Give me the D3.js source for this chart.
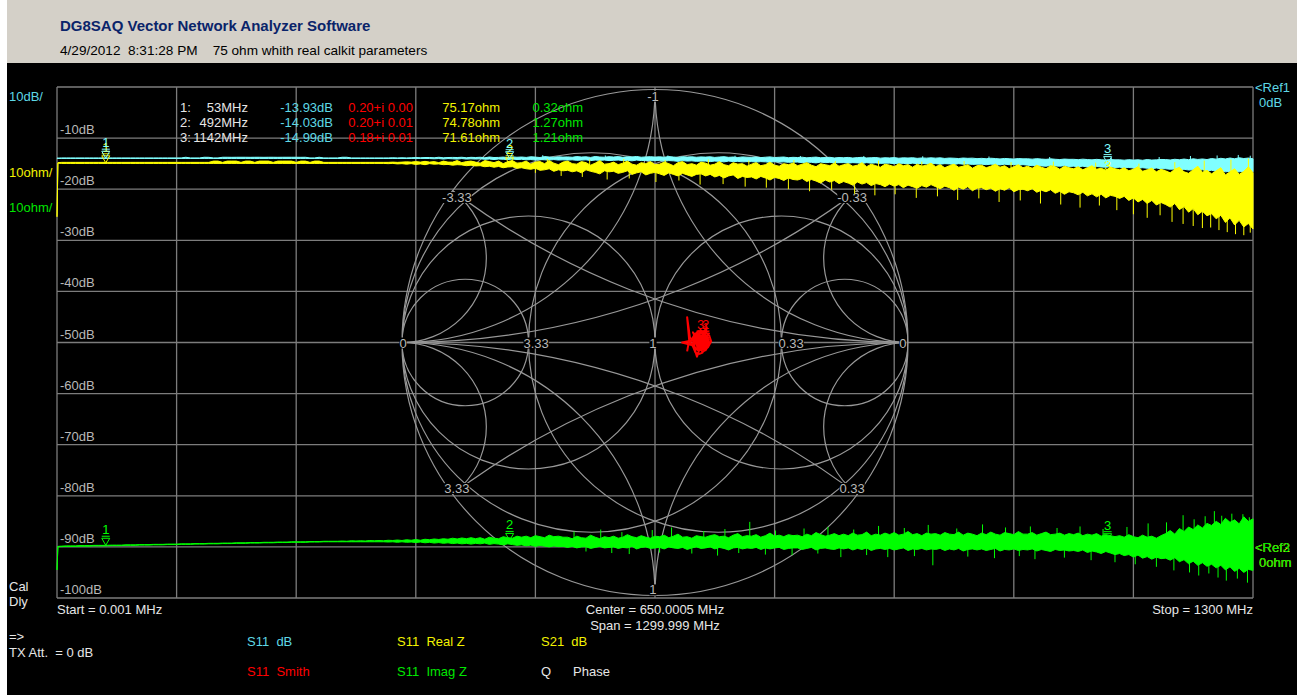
<!DOCTYPE html>
<html>
<head>
<meta charset="utf-8">
<script src="https://cdn.jsdelivr.net/npm/d3@7"></script>
<style>
  html, body { margin: 0; padding: 0; background: #ffffff; }
  svg { display: block; }
  text { font-family: "Liberation Sans", Arial, sans-serif; white-space: pre; }
</style>
</head>
<body>
<svg id="vna" width="1297" height="695"></svg>
<script>
// ---------------------------------------------------------------
// Sweep: 0.001 MHz .. 1300 MHz (points at 0.001, 1, then every 5 MHz)
// ---------------------------------------------------------------
const sweepMHz = [0.001, 1].concat(d3.range(5, 1301, 5));

// Horizontal grid lines / dB labels
const dbTicks = [-10, -20, -30, -40, -50, -60, -70, -80, -90, -100];

// S11 dB trace: upper and lower envelope per sweep point (dB)
const s11DbHi = [-13.90, -13.92,
  -13.88,-13.88,-13.88,-13.88,-13.88,-13.88,-13.88,-13.88,-13.88,-13.88,
  -13.88,-13.88,-13.88,-13.88,-13.88,-13.88,-13.88,-13.88,-13.88,-13.88,
  -13.88,-13.88,-13.88,-13.88,-13.88,-13.88,-13.88,-13.75,-13.88,-13.88,
  -13.88,-13.75,-13.76,-13.88,-13.88,-13.75,-13.75,-13.76,-13.75,-13.75,
  -13.75,-13.76,-13.75,-13.75,-13.76,-13.75,-13.75,-13.76,-13.75,-13.75,
  -13.75,-13.75,-13.76,-13.75,-13.88,-13.88,-13.75,-13.88,-13.88,-13.88,
  -13.88,-13.75,-13.75,-13.88,-13.88,-13.88,-13.88,-13.88,-13.88,-13.88,
  -13.88,-13.88,-13.85,-13.88,-13.85,-13.88,-13.85,-13.80,-13.85,-13.80,
  -13.80,-13.85,-13.75,-13.85,-13.80,-13.78,-13.80,-13.75,-13.85,-13.76,
  -13.80,-13.75,-13.85,-13.70,-13.80,-13.78,-13.72,-13.80,-13.68,-13.75,
  -13.70,-13.78,-13.65,-13.72,-13.80,-13.62,-13.70,-13.75,-13.66,-13.72,
  -13.68,-13.75,-13.62,-13.70,-13.66,-13.78,-13.60,-13.70,-13.74,-13.64,
  -13.70,-13.62,-13.76,-13.66,-13.70,-13.60,-13.74,-13.68,-13.64,-13.72,
  -13.66,-13.74,-13.62,-13.70,-13.78,-13.64,-13.70,-13.66,-13.75,-13.68,
  -13.72,-13.66,-13.78,-13.70,-13.64,-13.76,-13.70,-13.80,-13.68,-13.74,
  -13.76,-13.70,-13.82,-13.74,-13.68,-13.80,-13.75,-13.70,-13.84,-13.76,
  -13.80,-13.74,-13.86,-13.78,-13.72,-13.84,-13.80,-13.76,-13.88,-13.80,
  -13.84,-13.78,-13.90,-13.82,-13.76,-13.88,-13.84,-13.80,-13.92,-13.85,
  -13.88,-13.82,-13.94,-13.86,-13.90,-13.84,-13.96,-13.88,-13.92,-13.86,
  -13.92,-13.86,-13.98,-13.90,-13.94,-14.00,-13.90,-13.96,-13.92,-14.02,
  -13.96,-14.04,-13.94,-14.00,-14.08,-13.98,-14.04,-14.10,-14.00,-14.06,
  -14.05,-14.12,-14.02,-14.10,-14.16,-14.06,-14.14,-14.20,-14.10,-14.16,
  -14.15,-14.22,-14.12,-14.20,-14.26,-14.16,-14.24,-14.30,-14.20,-14.26,
  -14.25,-14.32,-14.22,-14.30,-14.24,-14.34,-14.20,-14.30,-14.26,-14.18,
  -14.20,-14.28,-14.14,-14.24,-14.10,-14.22,-14.05,-14.18,-14.08,-14.20,
  -14.00,-14.12,-13.95,-14.08,-13.90,-14.05,-13.85,-14.00,-13.90,-14.05];
const s11DbLo = [-13.95, -13.98,
  -13.98,-13.98,-13.98,-13.98,-13.98,-13.98,-13.98,-13.98,-13.98,-13.98,
  -13.98,-13.98,-13.98,-13.98,-13.98,-13.98,-13.98,-13.98,-13.98,-13.98,
  -13.98,-13.98,-13.98,-13.98,-13.98,-13.98,-13.98,-13.98,-13.98,-13.98,
  -13.98,-13.98,-13.98,-13.98,-13.98,-13.98,-13.98,-13.98,-13.98,-13.98,
  -13.98,-13.98,-13.98,-13.98,-13.98,-13.98,-13.98,-13.98,-13.98,-13.98,
  -13.98,-13.98,-13.98,-13.98,-13.98,-13.98,-13.98,-13.98,-13.98,-13.98,
  -13.98,-13.98,-13.98,-13.98,-13.98,-13.98,-13.98,-13.98,-13.98,-13.98,
  -13.98,-13.98,-13.98,-13.98,-13.98,-13.98,-13.98,-13.98,-13.98,-13.98,
  -14.00,-14.05,-14.00,-14.10,-14.00,-14.05,-14.10,-14.00,-14.10,-14.05,
  -14.10,-14.05,-14.15,-14.10,-14.20,-14.10,-14.15,-14.20,-14.10,-14.20,
  -14.15,-14.25,-14.20,-14.30,-14.20,-14.25,-14.30,-14.20,-14.30,-14.25,
  -14.30,-14.25,-14.35,-14.30,-14.25,-14.40,-14.30,-14.35,-14.30,-14.40,
  -14.35,-14.30,-14.40,-14.35,-14.45,-14.30,-14.40,-14.35,-14.45,-14.40,
  -14.40,-14.50,-14.40,-14.45,-14.55,-14.40,-14.50,-14.45,-14.55,-14.50,
  -14.50,-14.60,-14.50,-14.55,-14.65,-14.50,-14.60,-14.55,-14.65,-14.60,
  -14.60,-14.70,-14.60,-14.65,-14.75,-14.60,-14.70,-14.65,-14.75,-14.70,
  -14.70,-14.80,-14.70,-14.75,-14.85,-14.70,-14.80,-14.75,-14.85,-14.80,
  -14.80,-14.90,-14.80,-14.85,-14.95,-14.80,-14.90,-14.85,-14.95,-14.90,
  -14.90,-15.00,-14.90,-14.95,-15.05,-14.90,-15.00,-14.95,-15.05,-15.00,
  -15.00,-15.10,-15.00,-15.05,-15.15,-15.00,-15.10,-15.05,-15.15,-15.10,
  -15.10,-15.20,-15.10,-15.15,-15.25,-15.10,-15.20,-15.15,-15.30,-15.20,
  -15.30,-15.40,-15.30,-15.45,-15.50,-15.35,-15.45,-15.50,-15.40,-15.55,
  -15.50,-15.60,-15.50,-15.65,-15.70,-15.55,-15.65,-15.70,-15.60,-15.75,
  -15.70,-15.80,-15.75,-15.85,-15.90,-15.80,-15.90,-16.00,-15.85,-16.00,
  -16.00,-16.10,-16.05,-16.20,-16.10,-16.25,-16.20,-16.30,-16.20,-16.40,
  -16.30,-16.50,-16.40,-16.60,-16.50,-16.70,-16.60,-16.50,-16.70,-16.60];
// isolated S11 dB excursions above the band
const s11DbSpikeMHz = [528, 596, 664, 737, 808, 877, 941, 1013, 1079, 1146, 1198, 1232, 1261, 1284, 1297];
const s11DbSpikeVal = [-13.35, -13.40, -13.40, -13.45, -13.50, -13.50, -13.55, -13.60, -13.70, -13.80, -13.70, -13.50, -13.40, -13.30, -13.45];

// S11 real part of Z: upper and lower envelope (ohm)
const realZHi = [64.6, 75.2,
  75.25,75.25,75.25,75.25,75.25,75.25,75.25,75.25,75.25,75.25,
  75.25,75.25,75.25,75.25,75.25,75.25,75.25,75.25,75.25,75.25,
  75.25,75.25,75.25,75.25,75.25,75.25,75.25,75.25,75.25,75.25,
  75.25,75.25,75.25,75.50,75.50,75.25,75.50,75.50,75.50,75.25,
  75.50,75.50,75.25,75.50,75.50,75.50,75.25,75.50,75.50,75.50,
  75.50,75.25,75.50,75.50,75.25,75.50,75.50,75.25,75.25,75.25,
  75.25,75.25,75.25,75.25,75.25,75.25,75.25,75.25,75.25,75.25,
  75.25,75.25,75.30,75.25,75.30,75.35,75.30,75.40,75.30,75.45,
  75.30,75.40,75.20,75.50,75.30,75.30,75.60,75.20,75.40,75.50,
  75.30,75.10,75.60,75.40,75.20,75.50,75.00,75.40,75.60,75.10,
  75.20,75.50,74.90,75.30,75.40,75.00,75.60,75.10,74.80,75.30,
  75.50,75.00,74.90,75.40,75.20,74.70,75.10,75.60,74.90,75.00,
  75.30,74.80,75.10,75.50,74.90,74.70,75.20,75.00,75.40,74.80,
  74.90,75.30,75.00,74.60,75.20,75.40,74.80,75.00,74.70,75.30,
  75.10,74.70,74.90,75.40,74.80,74.60,75.20,74.90,75.00,74.50,
  74.90,75.20,74.60,74.80,75.30,74.70,74.50,75.00,74.80,75.10,
  74.60,74.90,75.20,74.70,74.40,75.00,74.80,74.60,75.10,74.50,
  74.80,75.00,74.50,74.70,75.20,74.40,74.90,74.60,74.30,74.90,
  74.70,74.40,75.00,74.60,74.80,74.30,74.90,74.50,74.70,75.10,
  74.40,74.80,74.20,74.60,74.90,74.30,74.50,74.80,74.10,74.60,
  74.70,74.20,74.50,74.90,74.30,74.60,74.00,74.40,74.80,74.20,
  74.50,74.10,74.70,74.30,74.00,74.60,74.40,73.90,74.50,74.20,
  74.00,74.40,73.80,74.20,74.60,73.90,74.10,73.70,74.30,74.00,
  73.80,74.20,73.60,73.90,74.40,73.50,73.80,74.10,73.40,73.90,
  73.60,73.20,73.90,74.30,73.40,73.10,73.80,74.50,73.30,73.70,
  73.00,73.60,74.20,72.80,73.40,74.00,72.90,73.50,74.40,73.20];
const realZLo = [64.6, 75.1,
  75.05,75.05,75.05,75.05,75.05,75.05,75.05,75.05,75.05,75.05,
  75.05,75.05,75.05,75.05,75.05,75.05,75.05,75.05,75.05,75.05,
  75.05,75.05,75.05,75.05,75.05,75.05,75.05,75.05,75.05,75.05,
  75.05,75.05,75.05,75.05,75.05,75.05,75.05,75.05,75.05,75.05,
  75.05,75.05,75.05,75.05,75.05,75.05,75.05,75.05,75.05,75.05,
  75.05,75.05,75.05,75.05,75.05,75.05,75.05,75.05,75.05,75.05,
  75.05,75.05,75.05,75.05,75.05,75.05,75.05,75.05,75.05,75.05,
  75.05,75.00,75.05,74.95,75.00,74.90,75.00,74.85,74.95,74.80,
  75.00,74.90,74.95,74.80,74.85,74.70,74.80,74.75,74.60,74.70,
  74.55,74.60,74.40,74.50,74.30,74.45,74.20,74.35,74.40,74.10,
  74.20,74.00,73.90,74.10,73.70,73.80,74.00,73.50,73.80,73.60,
  73.70,73.40,73.60,73.20,73.80,73.50,73.30,73.00,73.60,73.40,
  73.50,73.10,73.30,73.60,72.90,73.20,73.40,72.80,73.10,73.30,
  73.00,72.70,73.20,72.90,72.60,73.10,72.80,72.50,72.90,73.00,
  72.60,72.90,72.40,72.70,72.20,72.60,72.80,72.10,72.50,72.30,
  72.40,72.00,72.50,72.20,71.80,72.30,72.10,71.70,72.20,71.90,
  71.80,72.10,71.50,71.90,71.60,71.20,71.80,71.40,71.70,71.10,
  71.50,71.20,70.80,71.40,71.00,71.30,70.70,71.10,70.90,70.50,
  71.00,70.60,70.90,70.30,70.80,70.50,70.20,70.70,70.40,70.90,
  70.50,70.10,70.60,70.30,69.80,70.40,70.00,70.50,69.70,70.20,
  70.30,69.90,70.20,69.60,70.10,69.80,70.30,69.50,69.90,70.00,
  69.70,70.10,69.40,69.80,69.50,69.90,69.20,69.60,69.00,69.50,
  69.30,68.90,69.40,68.70,69.10,68.50,69.00,68.30,68.80,68.60,
  68.20,68.60,67.80,68.30,67.50,68.00,67.20,67.80,66.90,67.40,
  67.00,66.50,67.20,66.00,66.60,65.50,66.20,65.00,65.70,64.80,
  65.20,64.20,64.90,63.50,64.40,63.00,63.90,62.60,63.30,62.20];
// isolated real Z excursions outside the band
const realZSpikeMHz = [520, 533, 548, 571, 579, 598, 616, 622, 651, 661, 676, 699, 708, 724, 748, 752, 771,
  795, 801, 818, 842, 846, 867, 889, 893, 911, 934, 940, 957, 979, 986, 1002, 1024, 1037, 1047, 1069,
  1083, 1091, 1112, 1129, 1133, 1152, 1170, 1176, 1185, 1199, 1212, 1215, 1224, 1235, 1245, 1247,
  1254, 1263, 1272, 1276, 1281, 1290, 1295, 1297];
const realZSpikeVal = [73.2, 75.9, 72.6, 72.4, 75.8, 71.9, 75.9, 72.1, 71.4, 75.7, 71.7, 70.9, 75.8, 71.0, 70.5, 75.6, 70.3,
  70.0, 75.7, 69.6, 69.9, 75.5, 69.1, 68.8, 75.6, 69.0, 68.3, 75.4, 68.6, 67.9, 75.5, 68.2, 67.5, 75.3, 67.8, 67.2,
  75.4, 67.0, 66.4, 75.2, 66.8, 65.9, 65.1, 75.0, 64.4, 64.9, 63.6, 75.3, 63.2, 62.8, 62.4, 75.6,
  62.5, 62.0, 61.6, 75.8, 61.2, 61.0, 76.0, 61.5];

// S11 imaginary part of Z: upper and lower envelope (ohm)
const imagZHi = [-4.5, 0.1,
  0.15,0.20,0.20,0.20,0.25,0.25,0.25,0.30,0.30,0.30,
  0.32,0.35,0.35,0.35,0.40,0.40,0.40,0.45,0.45,0.45,
  0.50,0.50,0.50,0.55,0.55,0.55,0.60,0.60,0.60,0.65,
  0.65,0.65,0.70,0.70,0.70,0.75,0.75,0.75,0.80,0.80,
  0.80,0.85,0.85,0.85,0.90,0.90,0.90,0.95,0.95,0.95,
  1.00,1.00,1.00,1.00,1.05,1.05,1.05,1.10,1.10,1.10,
  1.10,1.15,1.10,1.20,1.15,1.20,1.15,1.25,1.20,1.25,
  1.20,1.30,1.25,1.35,1.25,1.40,1.30,1.45,1.30,1.50,
  1.40,1.55,1.45,1.60,1.50,1.70,1.55,1.75,1.60,1.80,
  1.60,1.80,1.50,1.90,1.70,1.60,2.00,1.80,1.70,2.10,
  1.90,2.10,1.80,2.20,2.00,1.80,2.30,2.00,2.10,1.90,
  1.90,1.60,2.10,1.80,1.70,2.30,1.90,1.60,2.00,1.80,
  2.10,1.70,1.90,2.40,2.00,1.80,2.20,1.90,1.70,2.10,
  2.00,2.30,1.80,2.10,2.50,1.90,2.00,1.70,2.20,2.00,
  1.90,2.20,2.40,2.00,2.10,1.80,2.30,2.60,2.00,2.20,
  2.10,2.40,1.90,2.20,2.70,2.10,2.30,2.00,2.40,2.20,
  2.30,2.00,2.50,2.20,2.80,2.40,2.10,2.30,2.60,2.20,
  2.50,2.20,2.70,2.30,2.40,2.90,2.20,2.50,2.30,2.70,
  2.40,2.80,2.30,2.50,3.00,2.40,2.60,2.20,2.70,2.50,
  2.60,2.30,2.80,2.50,2.40,2.90,2.30,2.70,2.50,2.20,
  2.70,2.40,2.90,2.50,2.30,2.80,2.60,2.40,3.00,2.50,
  2.50,2.80,2.30,2.60,2.90,2.40,2.50,2.70,2.30,2.60,
  2.40,2.70,2.20,2.50,2.30,2.60,2.10,2.40,2.20,2.00,
  2.20,1.90,2.40,2.00,1.80,2.30,1.90,2.10,1.70,2.20,
  2.60,3.20,2.50,3.60,3.00,3.90,3.40,4.30,3.70,4.60,
  4.20,5.00,4.40,5.60,4.80,5.30,4.50,5.90,5.00,5.50];
const imagZLo = [-4.5, 0.05,
  0.05,0.10,0.10,0.10,0.15,0.15,0.15,0.20,0.20,0.20,
  0.22,0.25,0.25,0.25,0.30,0.30,0.30,0.35,0.35,0.35,
  0.40,0.40,0.40,0.45,0.45,0.45,0.50,0.50,0.50,0.55,
  0.55,0.55,0.60,0.60,0.60,0.65,0.65,0.65,0.70,0.70,
  0.70,0.75,0.75,0.75,0.80,0.80,0.80,0.85,0.85,0.85,
  0.90,0.90,0.90,0.90,0.95,0.95,0.95,1.00,1.00,1.00,
  1.00,1.00,1.00,1.00,1.00,1.00,1.00,1.00,1.00,1.00,
  1.00,0.95,1.00,0.90,1.00,0.90,0.95,0.85,0.95,0.80,
  0.90,0.75,0.85,0.70,0.80,0.65,0.75,0.60,0.70,0.55,
  0.70,0.60,0.75,0.50,0.65,0.55,0.40,0.60,0.45,0.30,
  0.40,0.20,0.35,0.10,0.30,0.15,0.00,0.20,0.05,0.10,
  -0.10,0.10,-0.20,0.00,0.05,-0.30,-0.10,0.10,-0.20,-0.10,
  0.00,-0.30,-0.10,-0.20,0.10,-0.40,-0.10,0.00,-0.30,-0.20,
  -0.10,-0.40,0.00,-0.20,-0.30,-0.10,-0.50,-0.20,0.00,-0.30,
  -0.20,0.00,-0.40,-0.10,-0.30,-0.60,-0.20,-0.10,-0.40,-0.20,
  -0.30,-0.10,-0.50,-0.20,-0.40,-0.20,-0.10,-0.50,-0.30,-0.20,
  -0.20,-0.50,-0.30,-0.10,-0.60,-0.30,-0.20,-0.40,-0.50,-0.20,
  -0.40,-0.20,-0.60,-0.30,-0.50,-0.20,-0.70,-0.40,-0.30,-0.50,
  -0.30,-0.60,-0.40,-0.20,-0.70,-0.40,-0.50,-0.30,-0.60,-0.40,
  -0.50,-0.30,-0.70,-0.40,-0.60,-0.30,-0.80,-0.50,-0.40,-0.60,
  -0.40,-0.70,-0.50,-0.30,-0.80,-0.50,-0.60,-0.40,-0.70,-0.50,
  -0.60,-0.40,-0.80,-0.50,-0.70,-0.90,-0.50,-0.70,-0.60,-0.80,
  -0.70,-0.90,-0.60,-1.10,-0.80,-1.00,-1.30,-0.90,-1.20,-1.50,
  -1.30,-1.70,-1.50,-2.00,-1.60,-2.20,-1.90,-2.40,-2.00,-2.30,
  -2.20,-2.60,-2.10,-2.90,-2.50,-3.30,-2.80,-3.60,-3.10,-3.80,
  -3.40,-4.10,-3.60,-4.50,-3.90,-4.80,-4.20,-5.00,-4.40,-4.60];
// isolated imag Z excursions outside the band
const imagZSpikeMHz = [562, 575, 591, 603, 614, 622, 647, 655, 668, 690, 703, 718, 726, 741, 753, 770, 781,
  799, 812, 827, 838, 852, 866, 880, 893, 903, 921, 932, 947, 952, 978, 990, 1006, 1019, 1031, 1046,
  1058, 1063, 1087, 1095, 1112, 1124, 1137, 1150, 1163, 1172, 1186, 1195, 1206, 1214, 1224, 1231,
  1236, 1241, 1248, 1252, 1258, 1262, 1266, 1271, 1277, 1283, 1289, 1294, 1296];
const imagZSpikeVal = [3.0, -0.9, 3.4, -1.2, 2.9, -1.4, 3.3, -1.1, 3.8, -1.3, 3.1, -1.7, 3.5, -1.2, 4.9, -1.5, 3.2,
  -1.6, 3.6, -1.3, 3.9, -2.0, 3.4, -1.6, 4.1, -2.0, 3.7, -1.8, 4.3, -3.6, 3.6, -1.9, 4.4, -2.2, 3.8, -1.8,
  4.0, -2.4, 3.7, -2.1, 4.0, -2.6, 3.5, -3.0, 3.9, -3.4, 4.6, -3.9, 4.8, -4.6, 6.2, -5.0,
  5.4, -5.6, 6.0, -5.2, 7.0, -6.0, 6.1, -6.6, 6.5, -6.2, 6.4, -7.0, 5.8];

// S11 reflection coefficient trace on the Smith chart
const smithTraceRe = [0.127,0.135,0.127,0.138,0.150,0.165,0.180,0.195,0.205,0.198,0.180,0.160,0.148,0.160,
  0.178,0.200,0.212,0.205,0.188,0.168,0.152,0.107,0.145,0.168,0.185,0.198,0.185,0.165,0.150,0.158,
  0.166,0.175,0.192,0.210,0.222,0.214,0.198,0.182,0.170,0.178,0.196,0.190,0.172,0.158,0.168,0.192,
  0.206,0.196,0.180,0.174,0.184,0.176,0.160,0.150,0.162,0.175,0.188,0.176,0.160,0.152,0.140,0.155,
  0.172,0.190,0.208,0.216,0.200,0.182,0.170,0.185,0.200,0.186,0.165,0.158,0.175,0.195,0.205,0.198,
  0.182,0.168,0.180,0.195,0.188,0.178];
const smithTraceIm = [-0.035,0.010,0.100,0.020,0.005,0.020,0.030,0.018,0.000,-0.020,-0.030,-0.022,-0.005,0.015,
  0.025,0.028,0.010,-0.012,-0.025,-0.030,-0.012,0.000,0.008,0.000,-0.012,0.012,0.040,0.032,0.020,-0.030,
  -0.056,-0.028,-0.035,-0.018,0.005,0.028,0.042,0.022,0.002,-0.012,-0.004,0.018,0.024,0.004,-0.018,-0.026,
  0.004,0.030,0.050,0.020,-0.004,0.010,0.028,0.040,0.012,-0.005,-0.040,-0.045,-0.040,-0.020,0.000,0.030,
  0.045,0.035,0.020,-0.005,-0.030,-0.018,0.010,0.012,0.000,-0.010,-0.008,0.018,0.035,0.045,0.060,0.030,
  0.008,-0.012,-0.020,-0.012,0.005,0.000];

// Markers
const markerIds = ["1", "2", "3"];
const markerMHz = [53, 492, 1142];
const markerS11Db = [-13.93, -14.03, -14.99];
const markerGammaRe = [0.20, 0.20, 0.18];
const markerGammaIm = [0.00, 0.01, 0.01];
const markerRealZ = [75.17, 74.78, 71.61];
const markerImagZ = [0.32, 1.27, 1.21];

// Smith chart grid values and label positions (reflection-coefficient plane)
const smithRes = [1 / 3, 1, 3];
const smithReact = [1 / 3, 1, 3];
const smithLabelText = ["0", "3.33", "1", "0.33", "0", "-1", "1", "-3.33", "-0.33", "3.33", "0.33"];
const smithLabelRe = [-0.996, -0.47, -0.008, 0.538, 0.98, -0.008, -0.008, -0.783, 0.779, -0.783, 0.779];
const smithLabelIm = [0, 0, 0, 0, 0, 0.976, -0.976, 0.575, 0.575, -0.575, -0.575];

// ---------------------------------------------------------------
const COL = {
  header: "#d4d0c8", title: "#0a246a", grid: "#7c7c7c", smith: "#989898",
  label: "#b8b8b8", white: "#e6e6e6",
  cyan: "#80ffff", cyanText: "#5ed8e6", yellow: "#ffff00", yellowText: "#f2f200",
  red: "#ff0000", green: "#00ff00", greenText: "#00e600"
};
const plot = { l: 57, r: 1253, t: 87, b: 598 };

const svg = d3.select("#vna");

// window background: header strip and black display
svg.append("rect").attr("x", 7).attr("y", 0).attr("width", 1290).attr("height", 63).attr("fill", COL.header);
svg.append("rect").attr("x", 7).attr("y", 63).attr("width", 1290).attr("height", 632).attr("fill", "#000");

svg.append("text").attr("x", 60).attr("y", 31).attr("fill", COL.title)
  .style("font-size", "15px").style("font-weight", "bold")
  .text("DG8SAQ Vector Network Analyzer Software");
svg.append("text").attr("x", 60).attr("y", 55).attr("fill", "#000")
  .style("font-size", "13.6px")
  .text("4/29/2012  8:31:28 PM    75 ohm whith real calkit parameters");

// scales
const x = d3.scaleLinear().domain([0.001, 1300]).range([plot.l, plot.r]);
const yDb = d3.scaleLinear().domain([-100, 0]).range([plot.b, plot.t]);
const yOhm = d3.scaleLinear().domain([-10, 90]).range([plot.b, plot.t]);

// rectangular grid
const gridG = svg.append("g").attr("stroke", COL.grid).attr("stroke-width", 1.3).attr("fill", "none");
const vLines = d3.range(0, 11).map(i => 0.001 + i * (1300 - 0.001) / 10);
gridG.selectAll("line.v").data(vLines).join("line")
  .attr("x1", d => x(d)).attr("x2", d => x(d)).attr("y1", plot.t).attr("y2", plot.b);
gridG.selectAll("line.h").data([0].concat(dbTicks)).join("line")
  .attr("x1", plot.l).attr("x2", plot.r).attr("y1", d => yDb(d)).attr("y2", d => yDb(d));

// dB labels
svg.append("g").selectAll("text").data(dbTicks).join("text")
  .attr("x", plot.l + 3).attr("y", d => yDb(d) - 4)
  .attr("fill", COL.label).style("font-size", "13px")
  .text(d => d + "dB");

// Smith chart
const cx = (plot.l + plot.r) / 2, cy = (plot.t + plot.b) / 2, R = 253;
const gx = d3.scaleLinear().domain([-1, 1]).range([cx - R, cx + R]);
const gy = d3.scaleLinear().domain([-1, 1]).range([cy + R, cy - R]);
svg.append("clipPath").attr("id", "smithClip")
  .append("circle").attr("cx", cx).attr("cy", cy).attr("r", R);
const smithG = svg.append("g").attr("stroke", COL.smith).attr("stroke-width", 1.2).attr("fill", "none");
smithG.append("circle").attr("cx", cx).attr("cy", cy).attr("r", R);
const inner = smithG.append("g").attr("clip-path", "url(#smithClip)");
const circles = [];
smithRes.forEach(r => {
  circles.push({ c: r / (1 + r), ci: 0, rad: 1 / (1 + r) });      // constant resistance
  circles.push({ c: -r / (1 + r), ci: 0, rad: 1 / (1 + r) });     // constant conductance
});
smithReact.forEach(v => {
  [1, -1].forEach(s => {
    circles.push({ c: 1, ci: s / v, rad: 1 / v });                 // constant reactance
    circles.push({ c: -1, ci: s / v, rad: 1 / v });                // constant susceptance
  });
});
inner.selectAll("circle").data(circles).join("circle")
  .attr("cx", d => gx(d.c)).attr("cy", d => gy(d.ci)).attr("r", d => d.rad * R);

// grid value labels on black boxes
const smithLab = svg.append("g").style("font-size", "13px");
smithLabelText.forEach((s, i) => {
  const t = smithLab.append("text")
    .attr("x", gx(smithLabelRe[i])).attr("y", gy(smithLabelIm[i]) + 5)
    .attr("text-anchor", "middle").attr("fill", COL.label).text(s);
  const bb = t.node().getBBox();
  smithLab.insert("rect", () => t.node())
    .attr("x", bb.x).attr("y", bb.y + 2).attr("width", bb.width).attr("height", bb.height - 4)
    .attr("fill", "#000");
});

// traces
const idx = d3.range(sweepMHz.length);
function band(yScale, hi, lo) {
  return d3.area().x(i => x(sweepMHz[i])).y0(i => yScale(lo[i])).y1(i => yScale(hi[i]))(idx);
}
function spikes(yScale, hi, lo, fs, vs, color) {
  svg.append("g").attr("stroke", color).attr("stroke-width", 1)
    .selectAll("line").data(fs).join("line")
    .attr("x1", f => x(f)).attr("x2", f => x(f))
    .attr("y1", (f, k) => yScale(vs[k]))
    .attr("y2", f => { const j = Math.round(f / 5) + 1; return yScale((hi[j] + lo[j]) / 2); });
}
svg.append("path").attr("d", band(yDb, s11DbHi, s11DbLo))
  .attr("fill", COL.cyan).attr("stroke", COL.cyan).attr("stroke-width", 1);
spikes(yDb, s11DbHi, s11DbLo, s11DbSpikeMHz, s11DbSpikeVal, COL.cyan);
svg.append("path").attr("d", band(yOhm, realZHi, realZLo))
  .attr("fill", COL.yellow).attr("stroke", COL.yellow).attr("stroke-width", 1);
spikes(yOhm, realZHi, realZLo, realZSpikeMHz, realZSpikeVal, COL.yellow);
svg.append("path").attr("d", band(yOhm, imagZHi, imagZLo))
  .attr("fill", COL.green).attr("stroke", COL.green).attr("stroke-width", 1);
spikes(yOhm, imagZHi, imagZLo, imagZSpikeMHz, imagZSpikeVal, COL.green);

const smithLine = d3.line().x(i => gx(smithTraceRe[i])).y(i => gy(smithTraceIm[i]));
svg.append("path").attr("d", smithLine(d3.range(smithTraceRe.length)))
  .attr("fill", "none").attr("stroke", COL.red).attr("stroke-width", 2).attr("stroke-linejoin", "round");

// marker glyphs: number above a bar and an open down-pointing triangle
function marker(px, py, id, color) {
  const g = svg.append("g");
  g.append("path")
    .attr("d", `M${px - 4},${py - 9}H${px + 4}M${px - 4},${py - 7}L${px + 4},${py - 7}L${px},${py}Z`)
    .attr("fill", "none").attr("stroke", color).attr("stroke-width", 1);
  g.append("text").attr("x", px).attr("y", py - 11).attr("text-anchor", "middle")
    .attr("fill", color).style("font-size", "13px").text(id);
}
markerIds.forEach((id, i) => marker(x(markerMHz[i]), yOhm(markerRealZ[i]), id, COL.yellow));
markerIds.forEach((id, i) => marker(x(markerMHz[i]), yDb(markerS11Db[i]), id, COL.cyan));
markerIds.forEach((id, i) => marker(x(markerMHz[i]), yOhm(markerImagZ[i]), id, COL.green));
markerIds.forEach((id, i) => marker(gx(markerGammaRe[i]), gy(markerGammaIm[i]), id, COL.red));

// marker readout table
const tbl = svg.append("g").style("font-size", "13px");
markerIds.forEach((id, i) => {
  const y = 111.5 + i * 15.3;
  tbl.append("text").attr("x", 180).attr("y", y).attr("fill", COL.white).text(id + ":");
  tbl.append("text").attr("x", 248).attr("y", y).attr("text-anchor", "end").attr("fill", COL.white)
    .text(markerMHz[i] + "MHz");
  tbl.append("text").attr("x", 333).attr("y", y).attr("text-anchor", "end").attr("fill", COL.cyanText)
    .text(markerS11Db[i].toFixed(2) + "dB");
  tbl.append("text").attr("x", 413).attr("y", y).attr("text-anchor", "end").attr("fill", COL.red)
    .text(markerGammaRe[i].toFixed(2) + "+i " + markerGammaIm[i].toFixed(2));
  tbl.append("text").attr("x", 500).attr("y", y).attr("text-anchor", "end").attr("fill", COL.yellowText)
    .text(markerRealZ[i].toFixed(2) + "ohm");
  tbl.append("text").attr("x", 583).attr("y", y).attr("text-anchor", "end").attr("fill", COL.greenText)
    .text(markerImagZ[i].toFixed(2) + "ohm");
});

// scale / reference annotations
const ann = svg.append("g").style("font-size", "13px");
function txt(xp, yp, s, color, anchor) {
  ann.append("text").attr("x", xp).attr("y", yp).attr("fill", color)
    .attr("text-anchor", anchor || "start").text(s);
}
txt(9, 100.5, "10dB/", COL.cyanText);
txt(9, 177, "10ohm/", COL.yellowText);
txt(9, 212, "10ohm/", COL.greenText);
txt(1255, 92, "<Ref1", COL.cyanText);
txt(1259, 107, "0dB", COL.cyanText);
txt(1255, 552, "<Ref2", COL.yellowText);
txt(1259, 567, "0ohm", COL.yellowText);
txt(1255, 552, "<Ref3", COL.greenText);
txt(1259, 567, "0ohm", COL.greenText);
txt(9, 591, "Cal", COL.white);
txt(9, 606, "Dly", COL.white);
txt(plot.l, 614, "Start = 0.001 MHz", COL.white);
txt(655, 614, "Center = 650.0005 MHz", COL.white, "middle");
txt(655, 630, "Span = 1299.999 MHz", COL.white, "middle");
txt(plot.r, 614, "Stop = 1300 MHz", COL.white, "end");
txt(9, 641, "=>", COL.white);
txt(9, 657, "TX Att.  = 0 dB", COL.white);
txt(247, 646, "S11  dB", COL.cyanText);
txt(397, 646, "S11  Real Z", COL.yellowText);
txt(541, 646, "S21  dB", COL.yellowText);
txt(247, 676, "S11  Smith", COL.red);
txt(397, 676, "S11  Imag Z", COL.greenText);
txt(541, 676, "Q", COL.white);
txt(573, 676, "Phase", COL.white);
</script>
</body>
</html>
